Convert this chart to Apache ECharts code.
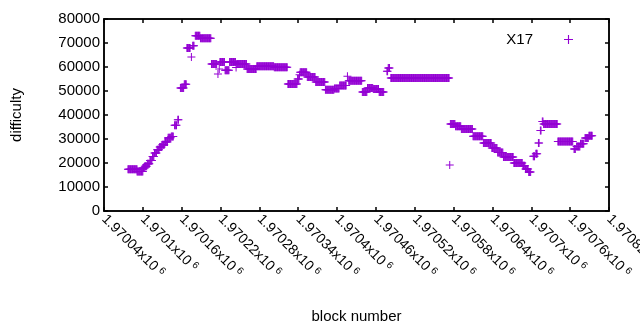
<!DOCTYPE html>
<html>
<head>
<meta charset="utf-8">
<script src="https://cdn.jsdelivr.net/npm/echarts@6/dist/echarts.min.js"></script>
<style>
  html, body { margin: 0; padding: 0; background: #fff; }
  #chart { width: 640px; height: 330px; }
</style>
</head>
<body>
<div id="chart"></div>
<script>
// difficulty stays constant over runs of blocks (block = 1970000 + offset)
const runStart = [77, 91, 100, 103, 107, 111, 115, 118, 122, 126, 130, 134, 139, 144, 149, 154,
    158, 164, 168, 175, 177, 181, 189, 206, 216, 218, 219, 227, 234, 244, 245, 261, 276, 303,
    324, 339, 342, 343, 354, 367, 382, 396, 404, 416, 418, 439, 447, 456, 465, 477, 479, 483,
    574, 575, 583, 592, 610, 626, 639, 648, 657, 673, 687, 691, 696, 703, 707, 711, 714, 717,
    719, 741, 766, 770, 776, 783, 789];
const runEnd = [91, 100, 103, 106, 110, 114, 117, 121, 125, 129, 133, 138, 143, 147, 152, 155,
    163, 167, 173, 175, 179, 188, 205, 214, 216, 218, 226, 233, 243, 244, 260, 275, 302, 323,
    338, 341, 342, 353, 366, 381, 395, 403, 414, 416, 438, 446, 455, 464, 472, 478, 481, 573,
    574, 582, 591, 609, 625, 638, 647, 656, 672, 686, 690, 695, 699, 705, 709, 712, 715, 718,
    740, 764, 768, 775, 781, 788, 794];
const runDifficulty = [17400, 16500, 17900, 18600, 19700, 21000, 22700, 24200, 25500, 26700,
    27600, 28700, 30500, 31000, 35700, 38000, 51200, 52800, 67900, 64200, 68900, 73000, 72000,
    61200, 57100, 59200, 62100, 58600, 62100, 59800, 61200, 59200, 60300, 59900, 52900, 55000,
    56800, 57800, 55800, 53700, 50500, 51000, 52300, 56100, 54300, 49600, 51200, 50800, 49600,
    58200, 59600, 55400, 19200, 36200, 35300, 34200, 31100, 28300, 26300, 24400, 22500, 20000,
    18900, 17500, 16300, 22800, 23900, 28300, 33500, 37300, 36300, 29000, 25800, 26900, 28000,
    30400, 31400];

const blockBase = 1970000;
const xMin = 1970040, xMax = 1970820, xStep = 60;

const points = [];
runStart.forEach((s, i) => {
    for (let b = s; b <= runEnd[i]; b++) {
        points.push([blockBase + b, runDifficulty[i]]);
    }
});

const plusIcon = 'path://M0,3.5H8V4.5H0Z M3.5,0H4.5V8H3.5Z';
const font = 'Liberation Sans, Arial, sans-serif';

const chart = echarts.init(document.getElementById('chart'));

const xLabel = v => {
    const n = parseFloat((v / 1e6).toPrecision(6));
    return `{n|${n}x10} {e|6}`;
};

// fresh objects per axis so nothing gets shared between merged options
const lineBlack = () => ({ show: true, onZero: false, lineStyle: { color: '#000', width: 1.5 } });
const tickIn = () => ({ show: true, inside: true, length: 4, lineStyle: { color: '#000', width: 1.5 } });

chart.setOption({
    animation: false,
    grid: {
        left: 104, right: 31, top: 19, bottom: 119,
        outerBoundsMode: 'none',
        show: true, borderColor: '#000', borderWidth: 1.5
    },
    legend: {
        data: ['X17'],
        right: 62,
        top: 27,
        align: 'right',
        icon: plusIcon,
        itemWidth: 9,
        itemHeight: 9,
        itemGap: 0,
        textStyle: { fontFamily: font, fontSize: 15, color: '#000', padding: [0, 26, 0, 0] }
    },
    xAxis: [{
        type: 'value',
        min: xMin,
        max: xMax,
        interval: xStep,
        name: 'block number',
        nameLocation: 'middle',
        nameGap: 98,
        nameTextStyle: { fontFamily: font, fontSize: 15, color: '#000' },
        axisLine: lineBlack(),
        axisTick: tickIn(),
        splitLine: { show: false },
        axisLabel: {
            rotate: -45,
            margin: 6,
            color: '#000',
            fontFamily: font,
            formatter: xLabel,
            rich: {
                n: { fontFamily: font, fontSize: 14, color: '#000' },
                e: { fontFamily: font, fontSize: 10, color: '#000', padding: [0, 0, 6, 0] }
            }
        }
    }, {
        type: 'value',
        position: 'top',
        min: xMin,
        max: xMax,
        interval: xStep,
        axisLine: lineBlack(),
        axisTick: tickIn(),
        axisLabel: { show: false },
        splitLine: { show: false }
    }],
    yAxis: [{
        type: 'value',
        min: 0,
        max: 80000,
        interval: 10000,
        name: 'difficulty',
        nameLocation: 'middle',
        nameGap: 80,
        nameTextStyle: { fontFamily: font, fontSize: 15, color: '#000' },
        axisLine: lineBlack(),
        axisTick: tickIn(),
        splitLine: { show: false },
        axisLabel: { margin: 4, color: '#000', fontFamily: font, fontSize: 15, formatter: v => String(v) }
    }, {
        type: 'value',
        position: 'right',
        min: 0,
        max: 80000,
        interval: 10000,
        axisLine: lineBlack(),
        axisTick: tickIn(),
        axisLabel: { show: false },
        splitLine: { show: false }
    }],
    series: [{
        name: 'X17',
        type: 'scatter',
        symbol: plusIcon,
        symbolSize: 8,
        itemStyle: { color: '#9400d3', opacity: 1 },
        data: points
    }]
});
</script>
</body>
</html>
